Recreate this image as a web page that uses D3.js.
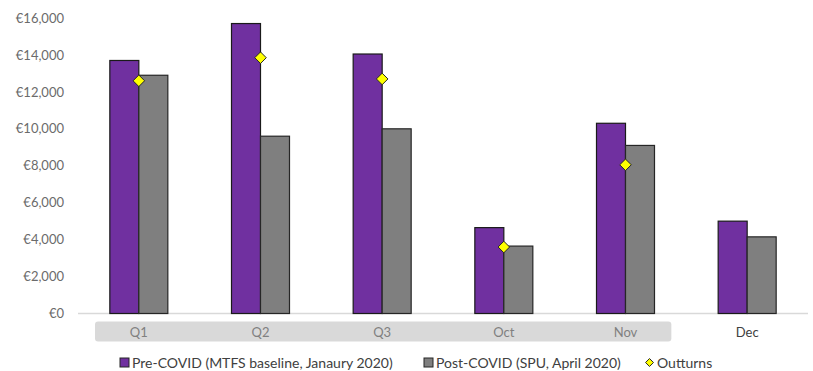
<!DOCTYPE html>
<html>
<head>
<meta charset="utf-8">
<script src="https://cdn.jsdelivr.net/npm/d3@7"></script>
<style>
  body { margin: 0; background: #fff; }
  text { font-family: Lato, "Open Sans", sans-serif; }
</style>
</head>
<body>
<div id="caja"></div>
<script>
// datos
var categorias = ["Q1", "Q2", "Q3", "Oct", "Nov", "Dec"];
var preCovid  = [13700, 15700, 14050, 4650, 10300, 5000];
var postCovid = [12900, 9600, 10000, 3650, 9100, 4150];
var outturns  = [12600, 13850, 12700, 3600, 8050, null];
var ticksY    = [0, 2000, 4000, 6000, 8000, 10000, 12000, 14000, 16000];

var w = 813, h = 371;
var margen = {left: 78, right: 5, top: 18, bottom: 58};

var svg = d3.select('#caja').append('svg')
  .attr('width', w)
  .attr('height', h);

var x = d3.scaleBand()
  .domain(categorias)
  .range([margen.left, w - margen.right]);

var y = d3.scaleLinear()
  .domain([0, 16000])
  .range([h - margen.bottom + 0.5, margen.top]);

var anchoBarra = 29;

// eje y (solo etiquetas)
var ejeY = svg.append('g')
  .attr('transform', 'translate(' + (margen.left - 14) + ',0)')
  .call(d3.axisLeft(y).tickValues(ticksY).tickSize(0).tickPadding(0)
    .tickFormat(function(d) { return '€' + d3.format(',')(d); }));
ejeY.select('.domain').remove();
ejeY.selectAll('text')
  .attr('font-size', '13px')
  .attr('fill', '#6b6b6b')
  .style('font-family', 'Lato, sans-serif');

// fondo gris de las etiquetas de categoria (Q1..Nov)
svg.append('rect')
  .attr('x', x('Q1') + 17)
  .attr('y', y(0) + 8)
  .attr('width', x('Nov') + x.bandwidth() - 15 - (x('Q1') + 17))
  .attr('height', 20)
  .attr('rx', 3)
  .attr('fill', '#d9d9d9');

// linea base
svg.append('line')
  .attr('x1', margen.left)
  .attr('x2', w - margen.right)
  .attr('y1', y(0))
  .attr('y2', y(0))
  .attr('stroke', '#d9d9d9')
  .attr('stroke-width', 1.5);

// barras pre-covid
svg.append('g').selectAll('rect')
  .data(preCovid)
  .enter().append('rect')
  .attr('x', function(d, i) { return x(categorias[i]) + x.bandwidth() / 2 - anchoBarra; })
  .attr('y', function(d) { return y(d); })
  .attr('width', anchoBarra)
  .attr('height', function(d) { return y(0) - y(d); })
  .attr('fill', '#7030a0')
  .attr('stroke', '#1a1a1a')
  .attr('stroke-width', 1.2);

// barras post-covid
svg.append('g').selectAll('rect')
  .data(postCovid)
  .enter().append('rect')
  .attr('x', function(d, i) { return x(categorias[i]) + x.bandwidth() / 2; })
  .attr('y', function(d) { return y(d); })
  .attr('width', anchoBarra)
  .attr('height', function(d) { return y(0) - y(d); })
  .attr('fill', '#7f7f7f')
  .attr('stroke', '#262626')
  .attr('stroke-width', 1.2);

// rombos de outturns
var rombo = d3.symbol().type(d3.symbolDiamond2).size(85);
svg.append('g').selectAll('path')
  .data(outturns.map(function(v, i) { return {cat: categorias[i], v: v}; })
    .filter(function(d) { return d.v !== null; }))
  .enter().append('path')
  .attr('d', rombo)
  .attr('transform', function(d) {
    return 'translate(' + (x(d.cat) + x.bandwidth() / 2) + ',' + y(d.v) + ')';
  })
  .attr('fill', '#ffff00')
  .attr('stroke', '#262626')
  .attr('stroke-width', 1);

// etiquetas de categoria
svg.append('g').selectAll('text')
  .data(categorias)
  .enter().append('text')
  .text(function(d) { return d; })
  .attr('x', function(d) { return x(d) + x.bandwidth() / 2; })
  .attr('y', y(0) + 23)
  .attr('text-anchor', 'middle')
  .attr('font-size', '13px')
  .attr('fill', function(d) { return d === 'Dec' ? '#404040' : '#808080'; });

// leyenda
var leyenda = [
  {tipo: 'rect', color: '#7030a0', texto: 'Pre-COVID (MTFS baseline, Janaury 2020)', x: 120},
  {tipo: 'rect', color: '#7f7f7f', texto: 'Post-COVID (SPU, April 2020)', x: 424},
  {tipo: 'rombo', color: '#ffff00', texto: 'Outturns', x: 645}
];
var ly = 363;
var items = svg.append('g').selectAll('g')
  .data(leyenda)
  .enter().append('g')
  .attr('transform', function(d) { return 'translate(' + d.x + ',' + ly + ')'; });

items.filter(function(d) { return d.tipo === 'rect'; })
  .append('rect')
  .attr('x', 0).attr('y', -5)
  .attr('width', 9).attr('height', 9)
  .attr('fill', function(d) { return d.color; })
  .attr('stroke', '#262626')
  .attr('stroke-width', 1);

items.filter(function(d) { return d.tipo === 'rombo'; })
  .append('path')
  .attr('d', d3.symbol().type(d3.symbolDiamond2).size(40))
  .attr('transform', 'translate(4.5,-0.5)')
  .attr('fill', function(d) { return d.color; })
  .attr('stroke', '#262626')
  .attr('stroke-width', 1);

items.append('text')
  .text(function(d) { return d.texto; })
  .attr('x', 12)
  .attr('y', 5)
  .attr('font-size', '14px')
  .attr('fill', '#404040');
</script>
</body>
</html>
